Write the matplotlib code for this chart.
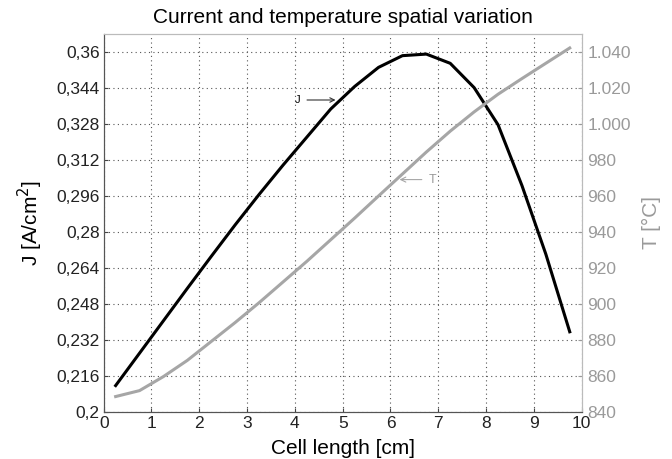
import matplotlib
matplotlib.use('Agg')
import matplotlib.pyplot as plt
from matplotlib.ticker import FixedLocator, FixedFormatter

plt.rcParams['font.family'] = ['Liberation Sans', 'DejaVu Sans']

# datos
x_cm = [0.25, 0.75, 1.25, 1.75, 2.25, 2.75, 3.25, 3.75, 4.25, 4.75,
        5.25, 5.75, 6.25, 6.75, 7.25, 7.75, 8.25, 8.75, 9.25, 9.75]
J = [0.2116, 0.2260, 0.2404, 0.2548, 0.2690, 0.2830, 0.2965, 0.3095, 0.3220, 0.3345,
     0.3445, 0.3530, 0.3582, 0.3589, 0.3548, 0.3440, 0.3275, 0.3005, 0.2700, 0.2355]
T = [848.4, 851.7, 859.5, 868.5, 879.0, 889.5, 900.5, 912.0, 923.5, 935.5,
     947.5, 959.8, 972.0, 984.2, 995.8, 1006.5, 1016.3, 1025.0, 1033.5, 1042.0]

x_ticks = list(range(0, 11))
j_ticks = [0.2, 0.216, 0.232, 0.248, 0.264, 0.28, 0.296, 0.312, 0.328, 0.344, 0.36]
j_labels = ['0,2', '0,216', '0,232', '0,248', '0,264', '0,28', '0,296', '0,312', '0,328', '0,344', '0,36']
t_ticks = [840, 860, 880, 900, 920, 940, 960, 980, 1000, 1020, 1040]
t_labels = ['840', '860', '880', '900', '920', '940', '960', '980', '1.000', '1.020', '1.040']

gris = '#a6a6a6'
gris_txt = '#9a9a9a'

fig = plt.figure(figsize=(6.72, 4.59), dpi=100)
ax = fig.add_axes([0.1543, 0.1031, 0.7113, 0.8222])
ax2 = ax.twinx()

ax.plot(x_cm, J, color='black', lw=2.2, zorder=3)
ax2.plot(x_cm, T, color=gris, lw=2.2, zorder=3)

ax.set_xlim(0, 10)
ax.set_ylim(0.2, 0.3677)
ax2.set_ylim(840, 1049.6)

ax.xaxis.set_major_locator(FixedLocator(x_ticks))
ax.yaxis.set_major_locator(FixedLocator(j_ticks))
ax.yaxis.set_major_formatter(FixedFormatter(j_labels))
ax2.yaxis.set_major_locator(FixedLocator(t_ticks))
ax2.yaxis.set_major_formatter(FixedFormatter(t_labels))

ax.grid(True, linestyle=(0, (1, 3)), color='#555555', lw=0.8)
ax.tick_params(direction='in', length=3, labelsize=12.5, colors='#444444')
ax.tick_params(axis='both', labelcolor='#222222', pad=3)
ax2.tick_params(direction='in', length=3, labelsize=12.5, colors=gris_txt, pad=4)

for s in ['top', 'right']:
    ax.spines[s].set_color('#bbbbbb')
    ax2.spines[s].set_color('#bbbbbb')
for s in ['left', 'bottom']:
    ax.spines[s].set_color('#555555')
    ax2.spines[s].set_color('#555555')

ax.set_xlabel('Cell length [cm]', fontsize=15, labelpad=6)
ax.set_ylabel('J [A/cm$^2$]', fontsize=15, labelpad=8)
ax2.set_ylabel('T [°C]', fontsize=15, color=gris_txt, labelpad=8)
ax.set_title('Current and temperature spatial variation', fontsize=15, pad=8)

ax.annotate('J', xy=(4.85, 0.3385), xytext=(4.05, 0.3385), fontsize=8,
            va='center', ha='center',
            arrowprops=dict(arrowstyle='->', color='#333333', lw=0.8, shrinkA=3, shrinkB=0))
ax2.annotate('T', xy=(6.19, 968.9), xytext=(6.88, 968.9), fontsize=9, color=gris_txt,
             va='center', ha='center',
             arrowprops=dict(arrowstyle='->', color=gris, lw=0.8, shrinkA=3, shrinkB=0))

fig.savefig('out.png', dpi=100)
